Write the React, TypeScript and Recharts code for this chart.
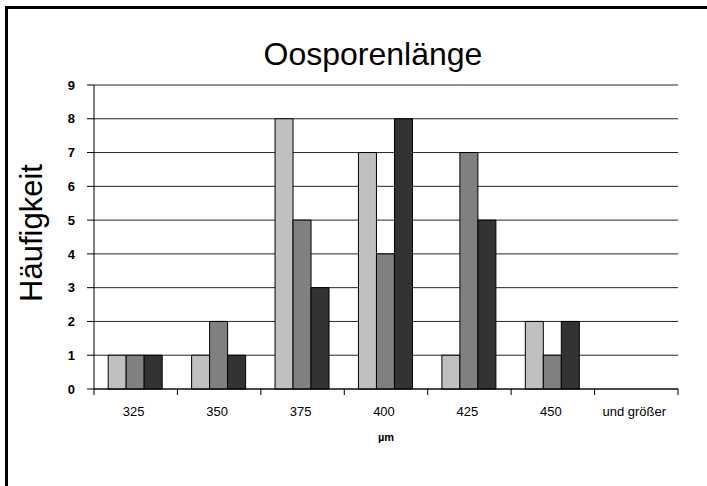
import { BarChart, Bar, XAxis, YAxis, CartesianGrid } from 'recharts'

const categories = ['325', '350', '375', '400', '425', '450', 'und größer']
const serie1 = [1, 1, 8, 7, 1, 2, 0]
const serie2 = [1, 2, 5, 4, 7, 1, 0]
const serie3 = [1, 1, 3, 8, 5, 2, 0]
const yTicks = [0, 1, 2, 3, 4, 5, 6, 7, 8, 9]

const data = categories.map((name, i) => ({
  name,
  a: serie1[i],
  b: serie2[i],
  c: serie3[i],
}))

const font = '"Liberation Sans", Arial, sans-serif'
const PLOT_BOTTOM = 389

// Excel-style ticks sit between the categories, so draw them from the tick itself
const CategoryTick = (props: any) => {
  const { x, payload, index } = props
  const half = payload && payload.offset ? payload.offset : 41.7
  const last = index === categories.length - 1
  return (
    <g>
      <line x1={x - half} x2={x - half} y1={PLOT_BOTTOM} y2={PLOT_BOTTOM + 6} stroke="#000" />
      {last && (
        <line x1={x + half} x2={x + half} y1={PLOT_BOTTOM} y2={PLOT_BOTTOM + 6} stroke="#000" />
      )}
      <text x={x - 2} y={416} textAnchor="middle" fontSize={13} fontFamily={font} fill="#000">
        {payload.value}
      </text>
    </g>
  )
}

const YLabel = () => (
  <text
    x={42}
    y={233}
    transform="rotate(-90 42 233)"
    textAnchor="middle"
    fontSize={31}
    fontFamily={font}
    fill="#000"
  >
    Häufigkeit
  </text>
)

const XLabel = () => (
  <text x={386} y={441} textAnchor="middle" fontSize={11} fontWeight="bold" fontFamily={font} fill="#000">
    µm
  </text>
)

export default function App() {
  return (
    <div
      style={{
        position: 'fixed',
        top: 0,
        left: 0,
        width: 707,
        height: 486,
        overflow: 'hidden',
        background: '#fff',
        fontFamily: font,
      }}
    >
      {/* frame, only left and top edges show */}
      <div
        style={{
          position: 'absolute',
          left: 5,
          top: 6,
          width: 800,
          height: 600,
          border: '3px solid #000',
        }}
      />
      <div
        style={{
          position: 'absolute',
          top: 38,
          left: 223,
          width: 300,
          textAlign: 'center',
          fontSize: 32,
          lineHeight: '32px',
          color: '#000',
        }}
      >
        Oosporenlänge
      </div>
      <BarChart
        width={707}
        height={486}
        data={data}
        margin={{ top: 85, right: 29, bottom: 67, left: 0 }}
        barCategoryGap="17%"
        barGap={0}
        style={{ position: 'absolute', top: 0, left: 0 }}
      >
        <CartesianGrid vertical={false} stroke="#000" strokeOpacity={0.85} />
        <XAxis
          dataKey="name"
          stroke="#000"
          tickLine={false}
          height={30}
          interval={0}
          tick={<CategoryTick />}
          label={<XLabel />}
        />
        <YAxis
          width={94}
          domain={[0, 9]}
          ticks={yTicks}
          interval={0}
          stroke="#000"
          tickSize={7}
          tickMargin={12}
          tick={{ fontSize: 13, fontWeight: 'bold', fill: '#000', fontFamily: font }}
          label={<YLabel />}
        />
        <Bar dataKey="a" fill="#c0c0c0" stroke="#000" strokeWidth={1} isAnimationActive={false} />
        <Bar dataKey="b" fill="#808080" stroke="#000" strokeWidth={1} isAnimationActive={false} />
        <Bar dataKey="c" fill="#333333" stroke="#000" strokeWidth={1} isAnimationActive={false} />
      </BarChart>
    </div>
  )
}
